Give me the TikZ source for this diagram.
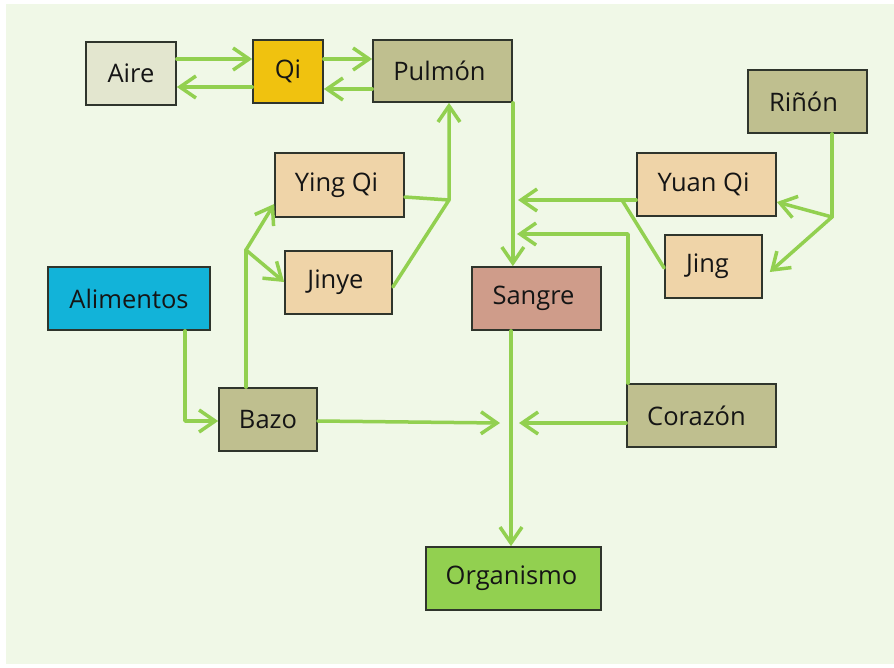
\documentclass[tikz,border=0pt]{standalone}
\usepackage{fontspec}
\setmainfont{Open Sans}
\usetikzlibrary{arrows.meta}

\definecolor{bgcol}{HTML}{F0F8E7}
\definecolor{linkcol}{HTML}{92D050}
\definecolor{edgecol}{HTML}{2F352C}
\definecolor{txtcol}{HTML}{151515}
\definecolor{airecol}{HTML}{E3E6CF}
\definecolor{qicol}{HTML}{F0C20F}
\definecolor{olivecol}{HTML}{BFBF8F}
\definecolor{tancol}{HTML}{EFD4A8}
\definecolor{foodcol}{HTML}{12B3D9}
\definecolor{bloodcol}{HTML}{CF9C8A}
\definecolor{bodycol}{HTML}{92D050}

\tikzset{
  box/.style={draw=edgecol, line width=1.7pt, minimum height=63pt,
    inner sep=0pt, font=\fontsize{25.5}{29}\selectfont, text=txtcol},
  link/.style={draw=linkcol, line width=3.5pt, line cap=round, line join=round},
  arr/.style={link, -{Straight Barb[length=16pt, width=22pt, line width=3.5pt]}}
}

\begin{document}
\begin{tikzpicture}[x=1pt, y=-1pt]
  \useasboundingbox (0,0) rectangle (894,667);
  \fill[bgcol] (6,4) rectangle (894,664);

  % boxes
  \node[box, fill=airecol,  minimum width=90pt]  (Aire)      at (131,73.5)  {Aire};
  \node[box, fill=qicol,    minimum width=70pt]  (Qi)        at (288,71.5)  {Qi};
  \node[box, fill=olivecol, minimum width=139pt, minimum height=62pt] (Pulmon) at (442.5,71) {\hspace*{-6pt}Pulmón};
  \node[box, fill=olivecol, minimum width=119pt] (Rinon)     at (807.5,101.5) {\hspace*{-8pt}Riñón};
  \node[box, fill=tancol,   minimum width=129pt, minimum height=64pt] (YingQi) at (339.5,185) {\hspace*{-6pt}Ying Qi};
  \node[box, fill=tancol,   minimum width=107pt] (Jinye)     at (338.5,282.5) {\hspace*{-6pt}Jinye};
  \node[box, fill=tancol,   minimum width=139pt] (YuanQi)    at (706.5,184.5) {\hspace*{-6pt}Yuan Qi};
  \node[box, fill=tancol,   minimum width=97pt]  (Jing)      at (713.5,266.5) {\hspace*{-12pt}Jing};
  \node[box, fill=foodcol,  minimum width=162pt] (Alimentos) at (129,298.5)  {Alimentos};
  \node[box, fill=bloodcol, minimum width=129pt] (Sangre)    at (536.5,298.5) {\hspace*{-6pt}Sangre};
  \node[box, fill=olivecol, minimum width=98pt]  (Bazo)      at (268,419.5)  {Bazo};
  \node[box, fill=olivecol, minimum width=149pt] (Corazon)   at (701.5,415.5) {\hspace*{-10pt}Corazón};
  \node[box, fill=bodycol,  minimum width=175pt] (Organismo) at (513.5,578.5) {\hspace*{-4pt}Organismo};

  % junctions and free ends
  \coordinate (jPul)   at (449,200);
  \coordinate (jBazo)  at (246,250);
  \coordinate (jRin)   at (832,217);
  \coordinate (jYuan)  at (622,200);
  \coordinate (inYuan) at (518,200);
  \coordinate (inCor)  at (517,234);
  \coordinate (inBazoL) at (500,423);
  \coordinate (inBazoR) at (519,423);

  % air and lung exchange
  \draw[arr] (Aire.east |- 0,59) -- (Qi.west |- 0,59);
  \draw[arr] (Qi.west |- 0,87) -- (Aire.east |- 0,87);
  \draw[arr] (Qi.east |- 0,59) -- (Pulmon.west |- 0,59);
  \draw[arr] (Pulmon.west |- 0,89) -- (Qi.east |- 0,89);

  % lung to blood
  \draw[arr] (Pulmon.south east) -- (Pulmon.south east |- Sangre.north);

  % Ying Qi and Jinye rise to the lung
  \draw[link] (Jinye.east |- 0,287) -- (jPul);
  \draw[arr] (YingQi.east |- 0,197) -- (jPul) -- (jPul |- Pulmon.south);

  % spleen splits into Ying Qi and Jinye
  \draw[link] (Bazo.north -| jBazo) -- (jBazo);
  \draw[arr] (jBazo) -- (YingQi.west |- 0,204);
  \draw[arr] (jBazo) -- (Jinye.west |- 0,282);

  % food to spleen
  \draw[arr] (Alimentos.south -| 185,0) |- (Bazo.west |- 0,421);

  % spleen and heart into the blood stream
  \draw[arr] (Bazo.east |- 0,421) -- (inBazoL);
  \draw[arr] (Corazon.west |- 0,423) -- (inBazoR);
  \draw[arr] (Corazon.north -| 628,0) |- (inCor);

  % blood to organism
  \draw[arr] (Sangre.south -| 511,0) -- (Organismo.north -| 511,0);

  % kidney feeds Yuan Qi and Jing
  \draw[link] (Rinon.south -| jRin) -- (jRin);
  \draw[arr] (jRin) -- (YuanQi.east |- 0,202);
  \draw[arr] (jRin) -- ([xshift=7pt]Jing.east |- 0,272);

  % Yuan Qi and Jing into the blood
  \draw[link] (Jing.west |- 0,268) -- (jYuan);
  \draw[arr] (YuanQi.west |- 0,200) -- (inYuan);
\end{tikzpicture}
\end{document}
